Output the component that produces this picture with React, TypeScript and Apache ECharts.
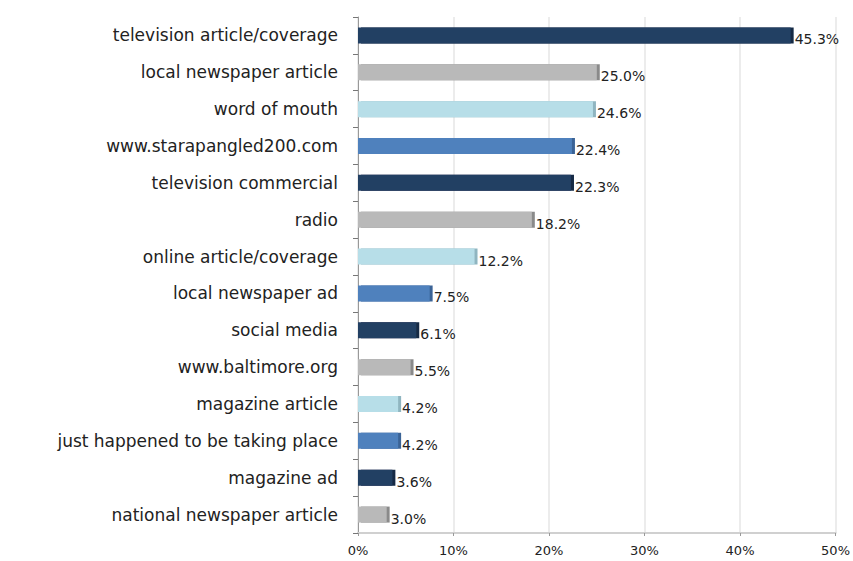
import React, { useEffect, useRef } from "react";
import * as echarts from "echarts";

const categories = [
  "television article/coverage",
  "local newspaper article",
  "word of mouth",
  "www.starapangled200.com",
  "television commercial",
  "radio",
  "online article/coverage",
  "local newspaper ad",
  "social media",
  "www.baltimore.org",
  "magazine article",
  "just happened to be taking place",
  "magazine ad",
  "national newspaper article",
];
const values = [45.3, 25.0, 24.6, 22.4, 22.3, 18.2, 12.2, 7.5, 6.1, 5.5, 4.2, 4.2, 3.6, 3.0];
const palette = ["#243F63", "#B9B9B9", "#B7DEE8", "#4F81BD"];
const sidePalette = ["#162a45", "#8a8a8a", "#8fb5c0", "#3a6396"];
const xTicks = [0, 10, 20, 30, 40, 50];

export default function App() {
  const ref = useRef<HTMLDivElement>(null);
  useEffect(() => {
    if (!ref.current) return;
    const chart = echarts.init(ref.current, undefined, { renderer: "svg" });
    const font = "DejaVu Sans";
    chart.setOption({
      animation: false,
      backgroundColor: "#ffffff",
      grid: { left: 358, right: 14, top: 17, bottom: 28 },
      xAxis: {
        type: "value",
        min: xTicks[0],
        max: xTicks[xTicks.length - 1],
        interval: 10,
        axisLabel: {
          formatter: "{value}%",
          fontFamily: font,
          fontSize: 13,
          color: "#222",
          margin: 11,
        },
        axisLine: { show: true, lineStyle: { color: "#d0d0d0", width: 2 } },
        axisTick: { show: true, length: 3, lineStyle: { color: "#999" } },
        splitLine: { show: true, lineStyle: { color: "#e6e6e6", width: 1.5 } },
      },
      yAxis: {
        type: "category",
        inverse: true,
        data: categories,
        axisLine: { show: true, lineStyle: { color: "#999", width: 1 } },
        axisTick: { show: true, length: 5, lineStyle: { color: "#777" } },
        axisLabel: {
          fontFamily: font,
          fontSize: 17,
          color: "#222",
          margin: 20,
        },
      },
      series: [
        {
          type: "bar",
          barWidth: 16,
          data: values.map((v, i) => ({
            value: v,
            itemStyle: {
              color: palette[i % 4],
              shadowColor: sidePalette[i % 4],
              shadowOffsetX: 3,
              shadowOffsetY: 0,
              shadowBlur: 0,
            },
          })),
          label: {
            show: true,
            position: "right",
            distance: 4,
            offset: [0, 4],
            formatter: (p: any) => p.value.toFixed(1) + "%",
            fontFamily: font,
            fontSize: 14,
            color: "#222",
          },
        },
      ],
    });
    return () => chart.dispose();
  }, []);
  return (
    <div
      ref={ref}
      style={{ position: "fixed", left: 0, top: 0, width: 853, height: 561 }}
    />
  );
}
